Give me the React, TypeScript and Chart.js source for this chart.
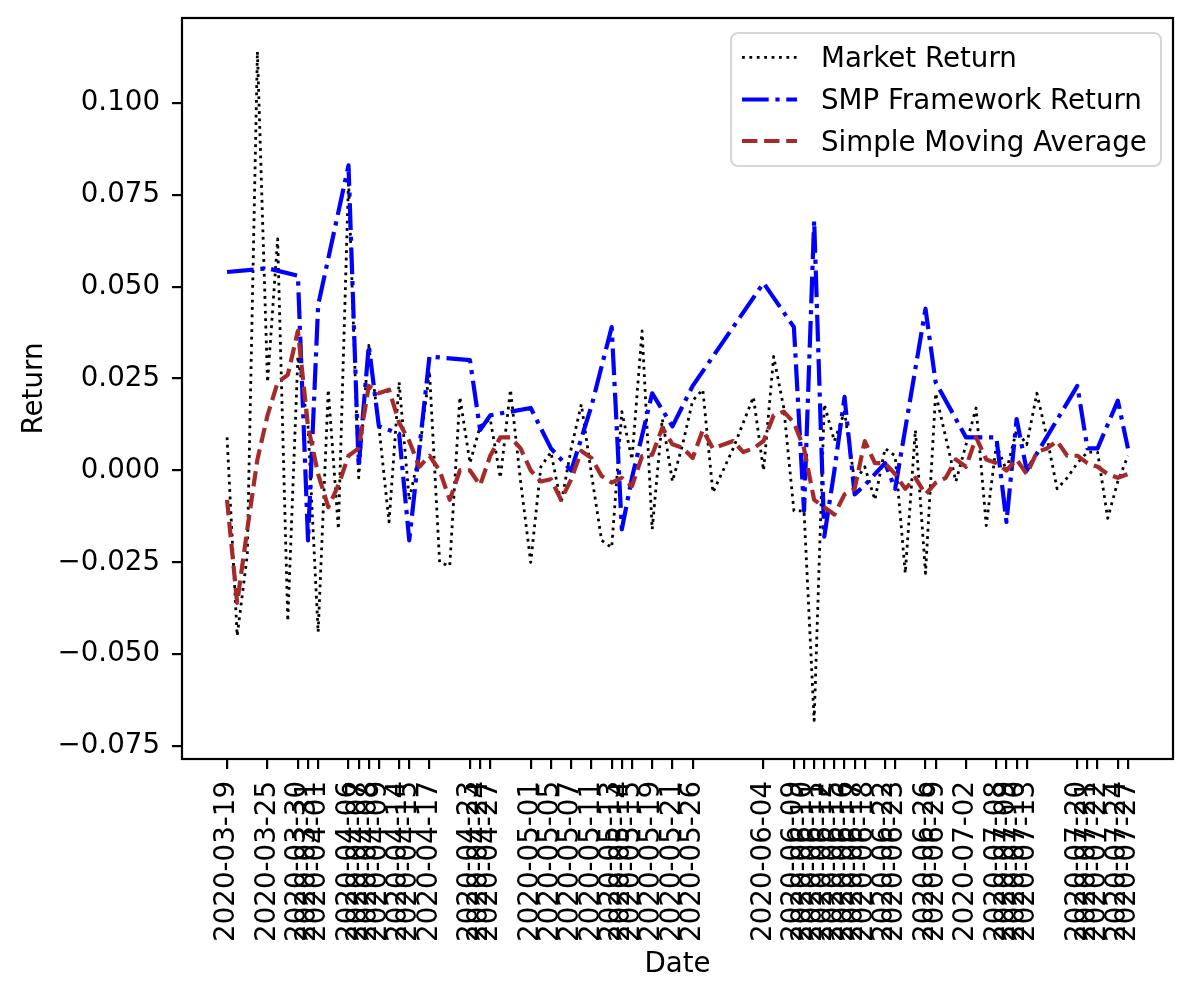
import { useEffect, useRef } from "react"
import { Chart, registerables } from "chart.js"
import type { Plugin } from "chart.js"

Chart.register(...registerables)

const FONT = "'DejaVu Sans', sans-serif"
const FONT_SIZE = 27.7

// trading days on the x axis (one slot per day)
const tradingDates = [
  "2020-03-19", "2020-03-20", "2020-03-23", "2020-03-24", "2020-03-25", "2020-03-26", "2020-03-27", "2020-03-30", "2020-03-31",
  "2020-04-01", "2020-04-02", "2020-04-03", "2020-04-06", "2020-04-07", "2020-04-08", "2020-04-09", "2020-04-13", "2020-04-14",
  "2020-04-15", "2020-04-16", "2020-04-17", "2020-04-20", "2020-04-21", "2020-04-22", "2020-04-23", "2020-04-24", "2020-04-27",
  "2020-04-28", "2020-04-29", "2020-04-30", "2020-05-01", "2020-05-04", "2020-05-05", "2020-05-06", "2020-05-07", "2020-05-08",
  "2020-05-11", "2020-05-12", "2020-05-13", "2020-05-14", "2020-05-15", "2020-05-18", "2020-05-19", "2020-05-20", "2020-05-21",
  "2020-05-22", "2020-05-26", "2020-05-27", "2020-05-28", "2020-05-29", "2020-06-01", "2020-06-02", "2020-06-03", "2020-06-04",
  "2020-06-05", "2020-06-08", "2020-06-09", "2020-06-10", "2020-06-11", "2020-06-12", "2020-06-15", "2020-06-16", "2020-06-17",
  "2020-06-18", "2020-06-19", "2020-06-22", "2020-06-23", "2020-06-24", "2020-06-25", "2020-06-26", "2020-06-29", "2020-06-30",
  "2020-07-01", "2020-07-02", "2020-07-06", "2020-07-07", "2020-07-08", "2020-07-09", "2020-07-10", "2020-07-13", "2020-07-14",
  "2020-07-15", "2020-07-16", "2020-07-17", "2020-07-20", "2020-07-21", "2020-07-22", "2020-07-23", "2020-07-24", "2020-07-27",
]

const marketReturn = [
  0.009, -0.045, -0.023, 0.114, 0.024, 0.063, -0.041, 0.031, 0.012,
  -0.044, 0.022, -0.016, 0.079, -0.002, 0.034, 0.012, -0.014, 0.024,
  -0.008, 0.005, 0.027, -0.025, -0.026, 0.020, 0.002, 0.012, 0.014,
  -0.002, 0.022, -0.003, -0.025, 0.001, 0.005, -0.009, 0.006, 0.018,
  -0.001, -0.019, -0.021, 0.016, 0.003, 0.038, -0.016, 0.014, -0.003,
  0.007, 0.019, 0.022, -0.006, 0.000, 0.006, 0.013, 0.020, 0.000,
  0.031, 0.017, -0.011, -0.011, -0.068, 0.018, 0.008, 0.016, -0.003,
  0.001, -0.008, 0.006, 0.004, -0.028, 0.011, -0.028, 0.021, 0.009,
  -0.003, 0.007, 0.017, -0.015, 0.007, 0.000, 0.011, 0.007, 0.021,
  0.009, -0.005, -0.002, 0.002, 0.005, 0.005, -0.013, -0.003, 0.004,
]

const movingAverage = [
  -0.008, -0.036, -0.016, 0.003, 0.015, 0.024, 0.026, 0.038, 0.012,
  -0.001, -0.010, -0.004, 0.004, 0.006, 0.023, 0.021, 0.022, 0.013,
  0.008, 0.001, 0.004, 0.000, -0.008, 0.000, 0.000, -0.004, 0.004,
  0.009, 0.009, 0.006, 0.000, -0.003, -0.0024, -0.008, -0.0024, 0.0053,
  0.0034, -0.0015, -0.0033, -0.002, -0.0043, 0.0039, 0.0043, 0.0116, 0.0071,
  0.0062, 0.0034, 0.011, 0.006, 0.007, 0.008, 0.005, 0.006, 0.008,
  0.015, 0.016, 0.013, 0.006, -0.008, -0.010, -0.012, -0.0065, -0.005,
  0.008, 0.002, 0.002, -0.001, -0.005, -0.002, -0.0065, -0.0034, -0.002,
  0.003, 0.001, 0.009, 0.003, 0.002, 0.000, 0.003, -0.001, 0.005,
  0.006, 0.008, 0.004, 0.004, 0.002, 0.001, -0.001, -0.002, -0.001,
]

// days the framework traded; these are also the x tick labels
const smpDates = [
  "2020-03-19", "2020-03-25", "2020-03-30", "2020-03-31", "2020-04-01", "2020-04-06", "2020-04-07", "2020-04-08",
  "2020-04-09", "2020-04-14", "2020-04-15", "2020-04-17", "2020-04-23", "2020-04-24", "2020-04-27", "2020-05-01",
  "2020-05-05", "2020-05-07", "2020-05-11", "2020-05-13", "2020-05-14", "2020-05-15", "2020-05-19", "2020-05-21",
  "2020-05-26", "2020-06-04", "2020-06-09", "2020-06-10", "2020-06-11", "2020-06-12", "2020-06-15", "2020-06-16",
  "2020-06-17", "2020-06-18", "2020-06-22", "2020-06-23", "2020-06-26", "2020-06-29", "2020-07-02", "2020-07-08",
  "2020-07-09", "2020-07-10", "2020-07-13", "2020-07-20", "2020-07-21", "2020-07-22", "2020-07-24", "2020-07-27",
]

const smpReturn = [
  0.054, 0.055, 0.053, -0.019, 0.045, 0.083, 0.001, 0.034,
  0.012, 0.010, -0.019, 0.031, 0.030, 0.011, 0.015, 0.017,
  0.006, 0.000, 0.0175, 0.039, -0.016, -0.002, 0.021, 0.012,
  0.023, 0.051, 0.039, -0.011, 0.068, -0.018, 0.000, 0.020,
  -0.0065, -0.004, 0.002, -0.005, 0.044, 0.024, 0.009, 0.009,
  -0.014, 0.014, 0.000, 0.023, 0.006, 0.006, 0.019, 0.006,
]

const yTicks = [-0.075, -0.05, -0.025, 0, 0.025, 0.05, 0.075, 0.1]

const seriesNames = ["Market Return", "SMP Framework Return", "Simple Moving Average"]

// matplotlib-like line styles (px at ~200 dpi)
const styles = [
  { color: "#000000", width: 2.8, dash: [2.8, 4.6] },
  { color: "#0000ff", width: 4.2, dash: [26.7, 6.7, 4.2, 6.7] },
  { color: "#a52a2a", width: 4.2, dash: [15.4, 6.7] },
]

const formatTick = (v: number) => {
  const s = Math.abs(v).toFixed(3)
  return v < -1e-9 ? "\u2212" + s : s
}

const framePlugin: Plugin = {
  id: "mplFrame",
  afterDatasetsDraw(chart) {
    const { ctx, chartArea } = chart
    ctx.save()
    ctx.strokeStyle = "#000000"
    ctx.lineWidth = 2.2
    ctx.setLineDash([])
    ctx.strokeRect(chartArea.left, chartArea.top, chartArea.right - chartArea.left, chartArea.bottom - chartArea.top)
    ctx.restore()
  },
  afterDraw(chart) {
    const { ctx } = chart
    ctx.save()
    // legend frame
    ctx.beginPath()
    ctx.roundRect(731, 33, 430, 133, 7)
    ctx.fillStyle = "rgba(255,255,255,0.8)"
    ctx.fill()
    ctx.strokeStyle = "#d6d6d6"
    ctx.lineWidth = 2
    ctx.stroke()

    const rows = [57.3, 99.5, 141]
    ctx.font = `${FONT_SIZE}px ${FONT}`
    ctx.textBaseline = "alphabetic"
    ctx.textAlign = "left"
    seriesNames.forEach((name, i) => {
      const st = styles[i]
      ctx.beginPath()
      ctx.strokeStyle = st.color
      ctx.lineWidth = st.width
      ctx.lineCap = "butt"
      ctx.setLineDash(st.dash)
      ctx.moveTo(742, rows[i])
      ctx.lineTo(797, rows[i])
      ctx.stroke()
      ctx.fillStyle = "#000000"
      ctx.fillText(name, 821, rows[i] + 9.8)
    })
    ctx.restore()
  },
}

export default function App() {
  const canvasRef = useRef<HTMLCanvasElement | null>(null)

  useEffect(() => {
    document.body.style.margin = "0"
    if (!canvasRef.current) return
    const ctx = canvasRef.current.getContext("2d")
    if (!ctx) return

    const marketPoints = marketReturn.map((v, i) => ({ x: i, y: v }))
    const smaPoints = movingAverage.map((v, i) => ({ x: i, y: v }))
    const smpPoints = smpDates.map((d, k) => ({ x: tradingDates.indexOf(d), y: smpReturn[k] }))
    const smpIndex = smpDates.map((d) => tradingDates.indexOf(d))

    const lineBase = {
      pointRadius: 0,
      pointHoverRadius: 0,
      tension: 0,
      fill: false,
      borderCapStyle: "butt" as const,
      borderJoinStyle: "round" as const,
    }

    const chart = new Chart(ctx, {
      type: "line",
      data: {
        datasets: [
          {
            ...lineBase,
            label: seriesNames[0],
            data: marketPoints,
            borderColor: styles[0].color,
            borderWidth: styles[0].width,
            borderDash: styles[0].dash,
            order: 3,
          },
          {
            ...lineBase,
            label: seriesNames[1],
            data: smpPoints,
            borderColor: styles[1].color,
            borderWidth: styles[1].width,
            borderDash: styles[1].dash,
            order: 2,
          },
          {
            ...lineBase,
            label: seriesNames[2],
            data: smaPoints,
            borderColor: styles[2].color,
            borderWidth: styles[2].width,
            borderDash: styles[2].dash,
            order: 1,
          },
        ],
      },
      options: {
        responsive: false,
        animation: false,
        devicePixelRatio: 1,
        layout: { padding: { left: 0, top: 18, right: 20, bottom: 0 } },
        plugins: {
          legend: { display: false },
          tooltip: { enabled: false },
        },
        scales: {
          x: {
            type: "linear",
            min: -4.45,
            max: 93.45,
            afterFit: (scale) => {
              scale.height = 240
              scale.paddingLeft = 0
              scale.paddingRight = 0
            },
            afterBuildTicks: (scale) => {
              scale.ticks = smpIndex.map((v) => ({ value: v }))
            },
            ticks: {
              autoSkip: false,
              minRotation: 90,
              maxRotation: 90,
              padding: 12,
              color: "#000000",
              font: { family: FONT, size: FONT_SIZE },
              callback: (value) => tradingDates[Number(value)] ?? "",
            },
            grid: {
              drawOnChartArea: false,
              drawTicks: true,
              tickLength: 10,
              lineWidth: 2.2,
              color: "#000000",
            },
            border: { display: false },
            title: {
              display: true,
              text: "Date",
              color: "#000000",
              font: { family: FONT, size: FONT_SIZE },
              padding: { top: 0, bottom: 17.5 },
            },
          },
          y: {
            type: "linear",
            min: -0.0785,
            max: 0.1231,
            afterFit: (scale) => {
              scale.width = 182
              scale.paddingTop = 0
              scale.paddingBottom = 0
            },
            afterBuildTicks: (scale) => {
              scale.ticks = yTicks.map((v) => ({ value: v }))
            },
            ticks: {
              padding: 12,
              color: "#000000",
              font: { family: FONT, size: FONT_SIZE },
              callback: (value) => formatTick(Number(value)),
            },
            grid: {
              drawOnChartArea: false,
              drawTicks: true,
              tickLength: 10,
              lineWidth: 2.2,
              color: "#000000",
            },
            border: { display: false },
            title: {
              display: true,
              text: "Return",
              color: "#000000",
              font: { family: FONT, size: FONT_SIZE },
              padding: { top: 18, bottom: 0 },
            },
          },
        },
      },
      plugins: [framePlugin],
    })

    return () => {
      chart.destroy()
    }
  }, [])

  return (
    <div style={{ width: 1193, height: 999 }}>
      <canvas ref={canvasRef} width={1193} height={999} style={{ display: "block" }}></canvas>
    </div>
  )
}
